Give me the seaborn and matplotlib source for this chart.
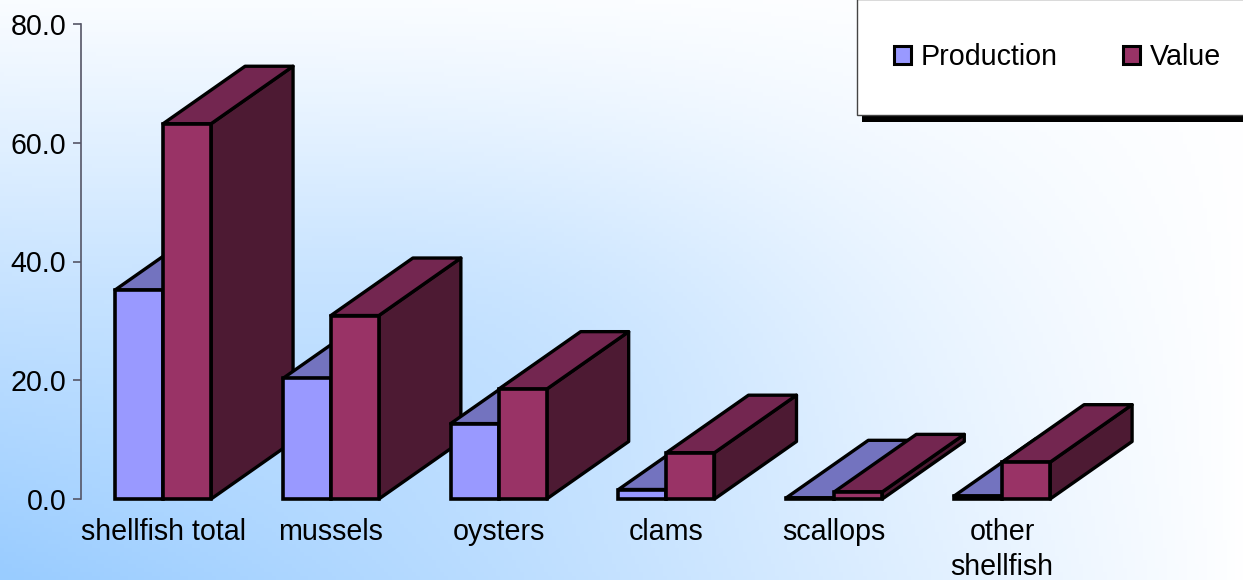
import numpy as np
import pandas as pd
import matplotlib
matplotlib.use("Agg")
import matplotlib.pyplot as plt
from matplotlib.patches import Polygon, Rectangle
from matplotlib.ticker import FormatStrFormatter
import seaborn as sns

categories = ["shellfish total", "mussels", "oysters", "clams", "scallops", "other\nshellfish"]
production = [35.2, 20.3, 12.7, 1.6, 0.2, 0.5]
value = [63.2, 30.9, 18.5, 7.8, 1.2, 6.2]

W, H = 1243, 580
FS = 20.6
sns.set_theme(style="white")
plt.rcParams["font.family"] = ["Liberation Sans", "DejaVu Sans"]
plt.rcParams["text.color"] = "black"

df = pd.DataFrame({
    "category": categories * 2,
    "series": ["Production"] * len(categories) + ["Value"] * len(categories),
    "pct": production + value,
})

fig = plt.figure(figsize=(W / 100, H / 100), dpi=100)

# gradient background, white at upper right, blue at lower left
bg = fig.add_axes([0, 0, 1, 1], zorder=-1)
xx, yy = np.meshgrid(np.linspace(0, 1, 311), np.linspace(0, 1, 145))
blue = 0.95 * yy * (1 - xx) ** 0.9 + 0.2 * np.exp(-((xx - 0.4) / 0.3) ** 2 - ((yy - 0.55) / 0.35) ** 2) + 0.05 * (1 - xx)
blue = np.clip(blue, 0, 1)
white = np.array([1.0, 1.0, 1.0])
sky = np.array([0x99, 0xCC, 0xFF]) / 255
bg.imshow(white + blue[..., None] * (sky - white), aspect="auto", extent=(0, 1, 1, 0))
bg.axis("off")

ax = fig.add_axes([81 / W, 81 / H, 1005 / W, 475 / H])
ax.patch.set_alpha(0)
sns.barplot(data=df, x="category", y="pct", hue="series", palette=["#9999FF", "#993366"], saturation=1,
            width=0.572, gap=0, edgecolor="black", linewidth=2.6, legend=False, ax=ax)
ax.set_xlim(-0.489, 5.5)
ax.set_ylim(0, 80)
ax.set_xlabel("")
ax.set_ylabel("")

# depth of the 3D look, data units
dx = 82 / 167.8
dy = 57.5 / 475 * 80
shades = {0: ("#7373BF", "#4D4D80"), 1: ("#732650", "#4D1A33")}

for s, cont in enumerate(ax.containers):
    for i, bar in enumerate(cont):
        x0, w, h = bar.get_x(), bar.get_width(), bar.get_height()
        z = 3 + i * 3 + s * 1.5
        top = Polygon([(x0, h), (x0 + dx, h + dy), (x0 + w + dx, h + dy), (x0 + w, h)],
                      facecolor=shades[s][0], edgecolor="black", lw=2.4, joinstyle="round",
                      clip_on=False, zorder=z)
        side = Polygon([(x0 + w, 0), (x0 + w + dx, dy), (x0 + w + dx, h + dy), (x0 + w, h)],
                       facecolor=shades[s][1], edgecolor="black", lw=2.4, joinstyle="round",
                       clip_on=False, zorder=z)
        ax.add_patch(side)
        ax.add_patch(top)
        bar.set_zorder(z + 1)
        bar.set_clip_on(False)

for name in ["top", "right", "bottom"]:
    ax.spines[name].set_visible(False)
ax.spines["left"].set_color("#555566")
ax.spines["left"].set_linewidth(1.2)
ax.set_yticks([0, 20, 40, 60, 80])
ax.yaxis.set_major_formatter(FormatStrFormatter("%.1f"))
ax.tick_params(axis="y", left=True, length=5.5, width=1.2, color="#555566", pad=5, labelsize=FS, labelcolor="black")
ax.tick_params(axis="x", bottom=False, pad=8, labelsize=FS, labelcolor="black")
for t in ax.get_xticklabels():
    t.set_linespacing(1.32)

# legend box with its hard shadow
ax.add_patch(Rectangle((862 / W, 1 - 122 / H), (W - 862) / W, 40 / H, transform=fig.transFigure,
                       facecolor="black", edgecolor="none", clip_on=False, zorder=40))
ax.add_patch(Rectangle((857 / W, 1 - 115 / H), (W - 857 + 5) / W, 116 / H, transform=fig.transFigure,
                       facecolor="white", edgecolor="#444444", lw=1, clip_on=False, zorder=41))
handles = [Rectangle((0, 0), 1, 1, facecolor=c, edgecolor="black", lw=2.2) for c in ["#9999FF", "#993366"]]
leg = ax.legend(handles, ["Production", "Value"], ncols=2, loc="center left", frameon=False,
                bbox_to_anchor=(885 / W, 1 - 57 / H), bbox_transform=fig.transFigure,
                fontsize=FS, handlelength=0.6, handleheight=0.6, handletextpad=0.34,
                columnspacing=2.3, borderaxespad=0, borderpad=0.3, labelcolor="black")
leg.set_zorder(42)

fig.savefig("out.png", dpi=100)
